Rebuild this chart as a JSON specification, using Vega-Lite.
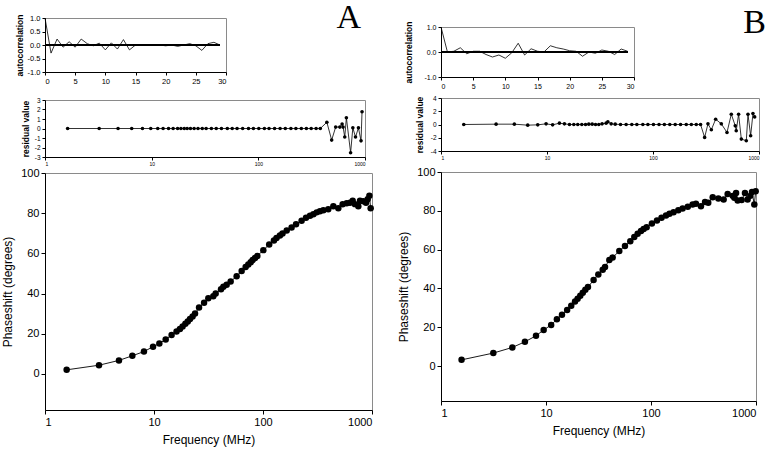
{
  "$schema": "https://vega.github.io/schema/vega-lite/v6.json",
  "background": "white",
  "padding": {"left": 1, "top": 0, "right": 4, "bottom": 2},
  "config": {
    "font": "Liberation Sans",
    "view": {"stroke": "#8a8a8a", "strokeWidth": 1},
    "axis": {"grid": false, "domainColor": "black", "tickColor": "black", "labelColor": "black", "titleColor": "black", "tickSize": 4, "labelFont": "Liberation Sans", "titleFont": "Liberation Sans", "titleFontWeight": "normal", "labelPadding": 2, "labelOverlap": false},
    "locale": {"number": {"decimal": ".", "thousands": ",", "grouping": [3], "currency": ["$", ""], "minus": "-"}}
  },
  "datasets": {
    "ac": [
      {"lag": 0, "a": 1.0, "b": 1.0}, {"lag": 1, "a": -0.3, "b": 0.0}, {"lag": 2, "a": 0.22, "b": 0.03}, {"lag": 3, "a": -0.08, "b": 0.17},
      {"lag": 4, "a": 0.12, "b": -0.07}, {"lag": 5, "a": -0.08, "b": 0.03}, {"lag": 6, "a": 0.22, "b": 0.03}, {"lag": 7, "a": 0.05, "b": -0.1},
      {"lag": 8, "a": -0.03, "b": -0.2}, {"lag": 9, "a": 0.07, "b": -0.12}, {"lag": 10, "a": -0.18, "b": -0.25}, {"lag": 11, "a": 0.08, "b": -0.03},
      {"lag": 12, "a": -0.15, "b": 0.35}, {"lag": 13, "a": 0.2, "b": -0.12}, {"lag": 14, "a": -0.18, "b": 0.13}, {"lag": 15, "a": 0.0, "b": 0.03},
      {"lag": 16, "a": 0.0, "b": 0.0}, {"lag": 17, "a": 0.0, "b": 0.25}, {"lag": 18, "a": 0.0, "b": 0.17}, {"lag": 19, "a": 0.0, "b": 0.12},
      {"lag": 20, "a": -0.03, "b": 0.05}, {"lag": 21, "a": 0.0, "b": 0.03}, {"lag": 22, "a": -0.05, "b": -0.17}, {"lag": 23, "a": 0.0, "b": 0.0},
      {"lag": 24, "a": 0.05, "b": -0.05}, {"lag": 25, "a": -0.03, "b": 0.08}, {"lag": 26, "a": -0.2, "b": 0.03}, {"lag": 27, "a": 0.05, "b": -0.1},
      {"lag": 28, "a": 0.1, "b": 0.12}, {"lag": 29, "a": 0.0, "b": 0.03}
    ],
    "resA": [
      {"f": 1.63, "r": 0}, {"f": 3.22, "r": 0}, {"f": 4.84, "r": 0}, {"f": 6.5, "r": 0}, {"f": 8.2, "r": 0}, {"f": 9.8, "r": 0},
      {"f": 11.4, "r": 0}, {"f": 12.8, "r": 0}, {"f": 14.4, "r": 0}, {"f": 15.9, "r": 0}, {"f": 17.5, "r": 0}, {"f": 18.8, "r": 0},
      {"f": 20.2, "r": 0}, {"f": 21.5, "r": 0}, {"f": 23.1, "r": 0}, {"f": 25, "r": 0}, {"f": 27.2, "r": 0}, {"f": 29.8, "r": 0},
      {"f": 32.4, "r": 0}, {"f": 36.3, "r": 0}, {"f": 40.3, "r": 0}, {"f": 45.1, "r": 0}, {"f": 51.2, "r": 0}, {"f": 56.9, "r": 0},
      {"f": 63.2, "r": 0}, {"f": 71.3, "r": 0}, {"f": 80.9, "r": 0}, {"f": 89.9, "r": 0}, {"f": 101, "r": 0}, {"f": 114, "r": 0},
      {"f": 126, "r": 0}, {"f": 142, "r": 0}, {"f": 160, "r": 0}, {"f": 179, "r": 0}, {"f": 202, "r": 0}, {"f": 225, "r": 0},
      {"f": 253, "r": 0}, {"f": 282, "r": 0}, {"f": 313, "r": 0}, {"f": 348, "r": 0}, {"f": 381, "r": 0},
      {"f": 439, "r": 0.66}, {"f": 487, "r": -1.22}, {"f": 531, "r": 0.15}, {"f": 581, "r": 0.15}, {"f": 610, "r": 0.47}, {"f": 623, "r": 0.15},
      {"f": 646, "r": -0.9}, {"f": 669, "r": 1.13}, {"f": 733, "r": -2.55}, {"f": 769, "r": 0.07}, {"f": 815, "r": -0.9}, {"f": 868, "r": 0.07},
      {"f": 918, "r": -1.3}, {"f": 938, "r": 1.77}
    ],
    "mainA": [
      {"f": 1.58, "p": 2.0}, {"f": 3.13, "p": 4.3}, {"f": 4.77, "p": 6.7}, {"f": 6.33, "p": 9.0}, {"f": 8.09, "p": 11.1}, {"f": 9.8, "p": 13.5},
      {"f": 11.2, "p": 15.1}, {"f": 12.8, "p": 17.1}, {"f": 14.5, "p": 19.3}, {"f": 16.1, "p": 21.1}, {"f": 17.3, "p": 22.3}, {"f": 18.3, "p": 23.6},
      {"f": 19.4, "p": 25.0}, {"f": 20.4, "p": 26.1}, {"f": 21.4, "p": 27.3}, {"f": 22.6, "p": 28.6}, {"f": 23.8, "p": 30.0}, {"f": 25.9, "p": 33.0},
      {"f": 28.8, "p": 35.4}, {"f": 31.5, "p": 37.6}, {"f": 35, "p": 38.6}, {"f": 36.8, "p": 40.0}, {"f": 41.2, "p": 42.1}, {"f": 43.3, "p": 43.4},
      {"f": 46.4, "p": 44.4}, {"f": 50.5, "p": 46.0}, {"f": 57.3, "p": 48.6}, {"f": 63.7, "p": 51.2}, {"f": 69.3, "p": 53.2}, {"f": 73.3, "p": 54.4},
      {"f": 77.1, "p": 55.6}, {"f": 80.4, "p": 56.7}, {"f": 84.5, "p": 57.7}, {"f": 88.7, "p": 58.7}, {"f": 100.7, "p": 61.6}, {"f": 114, "p": 64.4},
      {"f": 126, "p": 66.4}, {"f": 133, "p": 67.6}, {"f": 143, "p": 68.9}, {"f": 151, "p": 69.9}, {"f": 165, "p": 71.4}, {"f": 183, "p": 72.9},
      {"f": 201, "p": 74.5}, {"f": 226, "p": 76.2}, {"f": 248, "p": 77.7}, {"f": 270, "p": 78.7}, {"f": 290, "p": 79.5}, {"f": 311, "p": 80.4},
      {"f": 333, "p": 80.9}, {"f": 358, "p": 81.5}, {"f": 397, "p": 82.0}, {"f": 442, "p": 83.5}, {"f": 491, "p": 82.5}, {"f": 538, "p": 84.4},
      {"f": 586, "p": 84.9}, {"f": 628, "p": 85.2}, {"f": 665, "p": 86.2}, {"f": 698, "p": 84.5}, {"f": 749, "p": 83.5}, {"f": 776, "p": 86.2},
      {"f": 832, "p": 85.9}, {"f": 881, "p": 85.2}, {"f": 912, "p": 86.9}, {"f": 946, "p": 88.7}, {"f": 972, "p": 82.4}
    ],
    "resB": [
      {"f": 1.64, "r": 0}, {"f": 3.31, "r": 0.05}, {"f": 4.92, "r": 0.05}, {"f": 6.58, "r": -0.1}, {"f": 8.18, "r": -0.05}, {"f": 9.8, "r": 0.1},
      {"f": 11.3, "r": -0.05}, {"f": 13.1, "r": 0.2}, {"f": 14.6, "r": 0.1}, {"f": 16.3, "r": 0}, {"f": 17.9, "r": 0}, {"f": 19.5, "r": 0},
      {"f": 21.3, "r": 0}, {"f": 23.1, "r": 0}, {"f": 24.8, "r": 0.05}, {"f": 26.7, "r": 0.05}, {"f": 28.7, "r": 0}, {"f": 30.8, "r": 0},
      {"f": 33.1, "r": 0.1}, {"f": 36.1, "r": 0.2}, {"f": 37.5, "r": 0.4}, {"f": 40.3, "r": 0.1}, {"f": 44, "r": 0.05}, {"f": 49.4, "r": 0},
      {"f": 55.8, "r": 0}, {"f": 63.1, "r": 0}, {"f": 70.4, "r": 0}, {"f": 80.2, "r": 0}, {"f": 89.5, "r": 0}, {"f": 101, "r": 0},
      {"f": 114, "r": 0}, {"f": 128, "r": 0}, {"f": 144, "r": 0}, {"f": 162, "r": 0}, {"f": 182, "r": 0}, {"f": 206, "r": 0},
      {"f": 230, "r": 0}, {"f": 256, "r": 0}, {"f": 281, "r": 0},
      {"f": 307, "r": -1.95}, {"f": 330, "r": 0.1}, {"f": 355, "r": -0.8}, {"f": 390, "r": 0.8}, {"f": 441, "r": 0.1}, {"f": 499, "r": -1.2},
      {"f": 548, "r": 1.55}, {"f": 597, "r": -0.2}, {"f": 610, "r": -0.95}, {"f": 642, "r": 1.55}, {"f": 681, "r": -2.2}, {"f": 759, "r": -2.45},
      {"f": 787, "r": 1.55}, {"f": 834, "r": -1.7}, {"f": 877, "r": 1.65}, {"f": 910, "r": 1.15}
    ],
    "mainB": [
      {"f": 1.57, "p": 3.2}, {"f": 3.15, "p": 6.7}, {"f": 4.78, "p": 9.6}, {"f": 6.3, "p": 12.5}, {"f": 8.03, "p": 15.6}, {"f": 9.5, "p": 18.6},
      {"f": 11.2, "p": 21.2}, {"f": 12.7, "p": 24.1}, {"f": 14.2, "p": 26.5}, {"f": 15.9, "p": 28.9}, {"f": 17.4, "p": 31.1}, {"f": 18.9, "p": 33.3},
      {"f": 20.0, "p": 34.7}, {"f": 21.2, "p": 36.2}, {"f": 22.4, "p": 37.8}, {"f": 23.7, "p": 39.3}, {"f": 25.1, "p": 40.7}, {"f": 28.4, "p": 44.3},
      {"f": 31.5, "p": 47.2}, {"f": 34.7, "p": 49.6}, {"f": 36.5, "p": 51.1}, {"f": 40.1, "p": 54.7}, {"f": 43.1, "p": 55.9}, {"f": 49.9, "p": 59.3},
      {"f": 56.5, "p": 61.9}, {"f": 63.5, "p": 64.3}, {"f": 69.3, "p": 66.5}, {"f": 74.6, "p": 68.2}, {"f": 80.3, "p": 69.6}, {"f": 85.1, "p": 70.6},
      {"f": 90.9, "p": 71.5}, {"f": 102, "p": 73.5}, {"f": 114, "p": 75.0}, {"f": 126, "p": 76.4}, {"f": 139, "p": 77.6}, {"f": 150, "p": 78.5},
      {"f": 164, "p": 79.3}, {"f": 182, "p": 80.3}, {"f": 200, "p": 81.2}, {"f": 224, "p": 82.1}, {"f": 249, "p": 83.2}, {"f": 268, "p": 83.6},
      {"f": 299, "p": 82.4}, {"f": 327, "p": 84.6}, {"f": 351, "p": 84.1}, {"f": 387, "p": 87.0}, {"f": 438, "p": 86.3}, {"f": 492, "p": 85.8},
      {"f": 537, "p": 88.7}, {"f": 600, "p": 87.7}, {"f": 622, "p": 86.7}, {"f": 646, "p": 89.2}, {"f": 669, "p": 85.3}, {"f": 730, "p": 85.6},
      {"f": 785, "p": 89.2}, {"f": 832, "p": 85.8}, {"f": 883, "p": 87.7}, {"f": 916, "p": 89.7}, {"f": 964, "p": 83.2}, {"f": 993, "p": 90.1}
    ]
  },
  "spacing": 22,
  "hconcat": [
    {
      "spacing": 11,
      "vconcat": [
        {
          "width": 181, "height": 54,
          "title": {"text": "A", "anchor": "end", "frame": "group", "font": "Liberation Serif", "fontSize": 34, "fontWeight": "normal", "color": "black", "offset": -21, "dx": 135},
          "data": {"name": "ac"},
          "layer": [
            {"mark": {"type": "line", "color": "black", "strokeWidth": 0.8},
             "encoding": {
               "x": {"field": "lag", "type": "quantitative", "scale": {"domain": [0, 30], "nice": false},
                     "axis": {"values": [0, 5, 10, 15, 20, 25, 30], "title": null, "labelFontSize": 7.5, "tickSize": 3, "labelOverlap": false}},
               "y": {"field": "a", "type": "quantitative", "scale": {"domain": [-1, 1], "nice": false},
                     "axis": {"values": [-1, -0.5, 0, 0.5, 1], "format": ".1f", "title": "autocorrelation", "titleFontSize": 8.5, "titleFontWeight": "bold", "labelFontSize": 7.5, "tickSize": 3, "titlePadding": 3, "labelOverlap": false}}
             }},
            {"mark": {"type": "rule", "color": "black", "strokeWidth": 1.6},
             "encoding": {
               "x": {"datum": 0, "type": "quantitative", "axis": {"values": [0, 5, 10, 15, 20, 25, 30], "title": null, "labelFontSize": 7.5, "tickSize": 3, "labelOverlap": false}},
               "x2": {"datum": 29},
               "y": {"datum": 0, "type": "quantitative", "axis": {"values": [-1, -0.5, 0, 0.5, 1], "format": ".1f", "title": "autocorrelation", "titleFontSize": 8.5, "titleFontWeight": "bold", "labelFontSize": 7.5, "tickSize": 3, "titlePadding": 3, "labelOverlap": false}}
             }}
          ]
        },
        {
          "spacing": 16,
          "bounds": "flush",
          "vconcat": [
            {
              "width": 320, "height": 57,
              "data": {"name": "resA"},
              "encoding": {
                "x": {"field": "f", "type": "quantitative", "scale": {"type": "log", "domain": [1, 1000]},
                      "axis": {"values": [1, 10, 100, 1000], "format": "d", "title": null, "labelFontSize": 5, "tickSize": 3, "labelPadding": 1, "labelOverlap": false}},
                "y": {"field": "r", "type": "quantitative", "scale": {"domain": [-3, 3], "nice": false},
                      "axis": {"values": [-3, -2, -1, 0, 1, 2, 3], "title": "residual value", "titleFontSize": 8.5, "titleFontWeight": "bold", "labelFontSize": 6.5, "tickSize": 3, "titlePadding": 4, "labelOverlap": false}}
              },
              "layer": [
                {"mark": {"type": "line", "color": "black", "strokeWidth": 0.8}},
                {"mark": {"type": "circle", "color": "black", "opacity": 1, "size": 13}}
              ]
            },
            {
              "width": 327, "height": 237,
              "data": {"name": "mainA"},
              "encoding": {
                "x": {"field": "f", "type": "quantitative", "scale": {"type": "log", "domain": [1, 1000]},
                      "axis": {"values": [1, 10, 100, 1000], "format": "d", "title": "Frequency (MHz)", "labelFontSize": 11, "titleFontSize": 12, "titlePadding": 7, "labelOverlap": false}},
                "y": {"field": "p", "type": "quantitative", "scale": {"domain": [-18, 100], "nice": false},
                      "axis": {"values": [0, 20, 40, 60, 80, 100], "title": "Phaseshift (degrees)", "labelFontSize": 11, "titleFontSize": 12, "titlePadding": 6, "labelOverlap": false}}
              },
              "layer": [
                {"mark": {"type": "line", "color": "black", "strokeWidth": 0.9}},
                {"mark": {"type": "circle", "color": "black", "opacity": 1, "size": 42}}
              ]
            }
          ]
        }
      ]
    },
    {
      "spacing": 8,
      "bounds": "flush",
      "vconcat": [
        {
          "width": 193, "height": 1,
          "view": {"stroke": null},
          "title": {"text": "B", "anchor": "end", "frame": "group", "font": "Liberation Serif", "fontSize": 34, "fontWeight": "normal", "color": "black", "offset": -24, "dx": 132},
          "data": {"values": [{}]},
          "mark": {"type": "point", "opacity": 0}
        },
        {
          "spacing": 4,
          "vconcat": [
            {
              "width": 193, "height": 50,
              "data": {"name": "ac"},
              "layer": [
                {"mark": {"type": "line", "color": "black", "strokeWidth": 0.8},
                 "encoding": {
                   "x": {"field": "lag", "type": "quantitative", "scale": {"domain": [0, 30], "nice": false},
                         "axis": {"values": [0, 5, 10, 15, 20, 25, 30], "title": null, "labelFontSize": 7, "tickSize": 3, "labelOverlap": false}},
                   "y": {"field": "b", "type": "quantitative", "scale": {"domain": [-1, 1], "nice": false},
                         "axis": {"values": [-1, 0, 1], "title": "autocorrelation", "titleFontSize": 8.5, "titleFontWeight": "bold", "labelFontSize": 7, "tickSize": 3, "titlePadding": 10, "labelOverlap": false}}
                 }},
                {"mark": {"type": "rule", "color": "black", "strokeWidth": 1},
                 "encoding": {
                   "x": {"datum": 0, "type": "quantitative", "axis": {"values": [0, 5, 10, 15, 20, 25, 30], "title": null, "labelFontSize": 7, "tickSize": 3, "labelOverlap": false}},
                   "x2": {"datum": 29},
                   "y": {"datum": 0, "type": "quantitative", "axis": {"values": [-1, 0, 1], "title": "autocorrelation", "titleFontSize": 8.5, "titleFontWeight": "bold", "labelFontSize": 7, "tickSize": 3, "titlePadding": 10, "labelOverlap": false}}
                 }}
              ]
            },
            {
              "spacing": 21,
              "bounds": "flush",
              "vconcat": [
                {
                  "width": 318, "height": 53,
                  "data": {"name": "resB"},
                  "encoding": {
                    "x": {"field": "f", "type": "quantitative", "scale": {"type": "log", "domain": [1, 1000]},
                          "axis": {"values": [1, 10, 100, 1000], "format": "d", "title": null, "labelFontSize": 5, "tickSize": 3, "labelPadding": 1, "labelOverlap": false}},
                    "y": {"field": "r", "type": "quantitative", "scale": {"domain": [-4, 4], "nice": false},
                          "axis": {"values": [-4, -2, 0, 2, 4], "title": "residual value", "titleFontSize": 8.5, "titleFontWeight": "bold", "labelFontSize": 6.5, "tickSize": 3, "titlePadding": 6, "labelOverlap": false}}
                  },
                  "layer": [
                    {"mark": {"type": "line", "color": "black", "strokeWidth": 0.8}},
                    {"mark": {"type": "circle", "color": "black", "opacity": 1, "size": 13}}
                  ]
                },
                {
                  "width": 315, "height": 229,
                  "data": {"name": "mainB"},
                  "encoding": {
                    "x": {"field": "f", "type": "quantitative", "scale": {"type": "log", "domain": [1, 1000]},
                          "axis": {"values": [1, 10, 100, 1000], "format": "d", "title": "Frequency (MHz)", "labelFontSize": 11, "titleFontSize": 12, "titlePadding": 7, "labelOverlap": false}},
                    "y": {"field": "p", "type": "quantitative", "scale": {"domain": [-18, 100], "nice": false},
                          "axis": {"values": [0, 20, 40, 60, 80, 100], "title": "Phaseshift (degrees)", "labelFontSize": 11, "titleFontSize": 12, "titlePadding": 6, "labelOverlap": false}}
                  },
                  "layer": [
                    {"mark": {"type": "line", "color": "black", "strokeWidth": 0.9}},
                    {"mark": {"type": "circle", "color": "black", "opacity": 1, "size": 42}}
                  ]
                }
              ]
            }
          ]
        }
      ]
    }
  ]
}
